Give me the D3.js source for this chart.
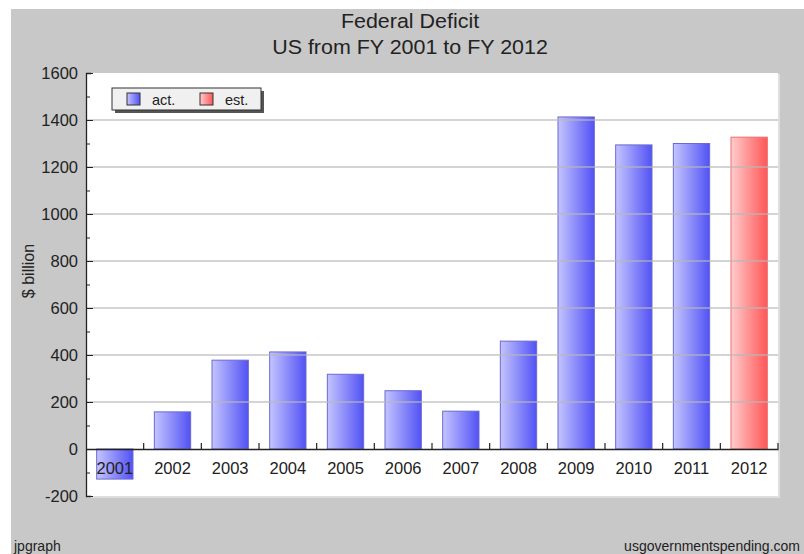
<!DOCTYPE html>
<html>
<head>
<meta charset="utf-8">
<script src="https://cdn.jsdelivr.net/npm/d3@7"></script>
<style>
  body { margin: 0; background: #fff; }
  text { font-family: 'Liberation Sans', Arial, sans-serif; fill: #222; }
</style>
</head>
<body>
<svg id="chart" width="804" height="554"></svg>
<script>
const years = ['2001', '2002', '2003', '2004', '2005', '2006', '2007', '2008', '2009', '2010', '2011', '2012']
const deficit = [-128, 158, 378, 413, 318, 248, 161, 459, 1413, 1294, 1300, 1327]
const kinds = ['act.', 'act.', 'act.', 'act.', 'act.', 'act.', 'act.', 'act.', 'act.', 'act.', 'act.', 'est.']
const yTicks = [-200, 0, 200, 400, 600, 800, 1000, 1200, 1400, 1600]

const svg = d3.select('#chart')
const W = 804
const H = 554
const margin = { left: 86, right: 26, top: 73, bottom: 58 }
const plotW = W - margin.left - margin.right
const plotH = H - margin.top - margin.bottom

// gray background, white strip at top/left like the original image
svg.append('rect').attr('x', 11).attr('y', 9).attr('width', W - 11).attr('height', H - 9).attr('fill', '#c8c8c8')

const defs = svg.append('defs')
const grads = [
    { id: 'gAct', from: '#c4c4ff', to: '#5252f5' },
    { id: 'gEst', from: '#ffcccc', to: '#ff5656' }]
grads.forEach(g => {
    const lg = defs.append('linearGradient').attr('id', g.id).attr('x1', 0).attr('x2', 1).attr('y1', 0).attr('y2', 0)
    lg.append('stop').attr('offset', 0).attr('stop-color', g.from)
    lg.append('stop').attr('offset', 1).attr('stop-color', g.to)
})
const fillOf = k => k === 'est.' ? 'url(#gEst)' : 'url(#gAct)'
const strokeOf = k => k === 'est.' ? '#e87070' : '#6a6ad0'

const x = d3.scaleBand().domain(years).range([0, plotW]).paddingInner(0.37).paddingOuter(0.185)
const xb = d3.scaleBand().domain(years).range([0, plotW])
const y = d3.scaleLinear().domain([-200, 1600]).range([plotH, 0])

const g = svg.append('g').attr('transform', `translate(${margin.left},${margin.top})`)

// plot area
g.append('rect').attr('x', 1).attr('y', 1).attr('width', plotW + 1).attr('height', plotH + 1).attr('fill', '#dedede')
g.append('rect').attr('width', plotW).attr('height', plotH).attr('fill', '#fff')

// bars
g.selectAll('rect.bar')
    .data(deficit)
    .enter()
    .append('rect')
    .attr('class', 'bar')
    .attr('x', (d, i) => x(years[i]))
    .attr('width', x.bandwidth())
    .attr('y', d => y(Math.max(0, d)))
    .attr('height', d => Math.abs(y(d) - y(0)))
    .attr('fill', (d, i) => fillOf(kinds[i]))
    .attr('stroke', (d, i) => strokeOf(kinds[i]))
    .attr('stroke-width', 1)

// grid lines (drawn over the bars, as in the original)
g.selectAll('line.grid')
    .data(yTicks.filter(v => v !== 0 && v !== -200 && v !== 1600))
    .enter()
    .append('line')
    .attr('x1', 0).attr('x2', plotW)
    .attr('y1', d => y(d)).attr('y2', d => y(d))
    .attr('stroke', '#b8b8b8').attr('stroke-opacity', 0.8).attr('stroke-width', 1.3)

// y axis
const yAxis = g.append('g')
    .call(d3.axisRight(y).tickValues(d3.range(-200, 1601, 100)).tickSize(5).tickFormat(''))
yAxis.select('.domain').attr('stroke', '#222').attr('stroke-width', 1.3)
yAxis.selectAll('.tick line').attr('stroke', '#222').attr('x2', d => d % 200 === 0 ? 7 : 4)
g.selectAll('text.ylab')
    .data(yTicks)
    .enter()
    .append('text')
    .attr('class', 'ylab')
    .attr('x', -8)
    .attr('y', d => y(d))
    .attr('dy', '0.36em')
    .attr('text-anchor', 'end')
    .style('font-size', '16.5px')
    .text(d => d)

// x axis at zero
const xAxis = g.append('g')
    .attr('transform', `translate(0,${y(0)})`)
    .call(d3.axisTop(xb).tickSize(0).tickFormat(''))
xAxis.select('.domain').attr('stroke', '#222').attr('stroke-width', 1.3)
g.selectAll('line.xtick')
    .data(years.slice(1).concat(['end']))
    .enter()
    .append('line')
    .attr('x1', d => d === 'end' ? plotW : xb(d))
    .attr('x2', d => d === 'end' ? plotW : xb(d))
    .attr('y1', y(0)).attr('y2', y(0) - 6)
    .attr('stroke', '#222').attr('stroke-width', 1.2)
g.selectAll('text.xlab')
    .data(years)
    .enter()
    .append('text')
    .attr('class', 'xlab')
    .attr('x', d => xb(d) + xb.bandwidth() / 2)
    .attr('y', y(0) + 25)
    .attr('text-anchor', 'middle')
    .style('font-size', '16.5px')
    .text(d => d)

// titles
svg.append('text').attr('transform', 'translate(410,28) scale(1.1,1)').attr('text-anchor', 'middle').style('font-size', '19.5px').text('Federal Deficit')
svg.append('text').attr('transform', 'translate(410,54) scale(1.1,1)').attr('text-anchor', 'middle').style('font-size', '19.5px').text('US from FY 2001 to FY 2012')
svg.append('text')
    .attr('transform', 'translate(34,271) rotate(-90)')
    .attr('text-anchor', 'middle')
    .style('font-size', '16px')
    .text('$ billion')
svg.append('text').attr('x', 14).attr('y', 551).style('font-size', '14px').text('jpgraph')
svg.append('text').attr('x', 800).attr('y', 551).attr('text-anchor', 'end').style('font-size', '14px').text('usgovernmentspending.com')

// legend
const legend = svg.append('g').attr('transform', 'translate(112,88)')
legend.append('rect').attr('x', 3).attr('y', 3).attr('width', 149).attr('height', 22).attr('fill', '#555')
legend.append('rect').attr('width', 149).attr('height', 22).attr('fill', '#f0f0f0').attr('stroke', '#333')
const items = [
    { name: 'act.', kind: 'act.' },
    { name: 'est.', kind: 'est.' }]
const li = legend.selectAll('g.item')
    .data(items)
    .enter()
    .append('g')
    .attr('transform', (d, i) => `translate(${15 + i * 73},5)`)
li.append('rect').attr('width', 13).attr('height', 12).attr('fill', d => fillOf(d.kind)).attr('stroke', '#333')
li.append('text').attr('x', 25).attr('y', 12).style('font-size', '14.5px').text(d => d.name)
</script>
</body>
</html>
